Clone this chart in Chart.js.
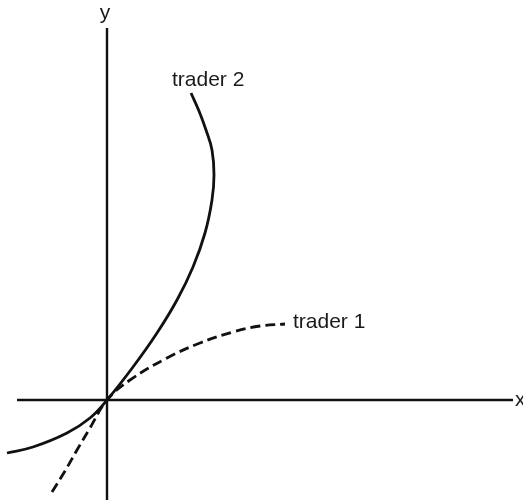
<!DOCTYPE html>
<html>
<head>
<meta charset="utf-8">
<script src="https://cdn.jsdelivr.net/npm/chart.js@4"></script>
<style>
  html, body { margin: 0; padding: 0; background: #fff; }
  #wrap { width: 523px; height: 500px; }
</style>
</head>
<body>
<div id="wrap"><canvas id="chart" width="523" height="500"></canvas></div>
<script>
// curve values (x right, y up, origin where the axes cross)
var trader1X = [-55, -42, -30, -17, 0, 23, 60, 93, 126, 153, 178];
var trader1Y = [-92, -71, -50, -28, 0, 20, 42, 57, 68, 74, 76];
var trader2X = [-100, -74, -40, -17, 0, 26, 50, 70, 86, 98, 105, 107, 105, 99, 92, 84];
var trader2Y = [-53, -47, -33, -18, 0, 33, 67, 100, 133, 167, 200, 225, 250, 270, 289, 307];
var seriesNames = ['trader 1', 'trader 2'];
var axisNames = ['x', 'y'];

function toPoints(xs, ys) {
    var pts = [];
    for (var i = 0; i < xs.length; i++) {
        pts.push({ x: xs[i], y: ys[i] });
    }
    return pts;
}

// text labels drawn at data positions
var textLabels = [
    { text: seriesNames[1], x: 65, y: 320, align: 'left' },
    { text: seriesNames[0], x: 186, y: 78, align: 'left' },
    { text: axisNames[1], x: -2, y: 387, align: 'center' },
    { text: axisNames[0], x: 408, y: 0, align: 'left' }
];

var labelPlugin = {
    id: 'textLabels',
    afterDatasetsDraw: function (chart) {
        var ctx = chart.ctx;
        var xs = chart.scales.x, ys = chart.scales.y;
        ctx.save();
        ctx.fillStyle = '#1a1a1a';
        ctx.font = '21px "Liberation Sans", Arial, sans-serif';
        ctx.textBaseline = 'middle';
        textLabels.forEach(function (l) {
            ctx.textAlign = l.align;
            ctx.fillText(l.text, xs.getPixelForValue(l.x), ys.getPixelForValue(l.y));
        });
        ctx.restore();
    }
};

var ctx = document.getElementById('chart').getContext('2d');
var chart = new Chart(ctx, {
    type: 'line',
    data: {
        datasets: [
            {
                // x axis
                data: [{ x: -90, y: 0 }, { x: 406, y: 0 }],
                borderColor: '#111',
                borderWidth: 2.4,
                pointRadius: 0,
                tension: 0
            },
            {
                // y axis
                data: [{ x: 0, y: -100 }, { x: 0, y: 372 }],
                borderColor: '#111',
                borderWidth: 2.4,
                pointRadius: 0,
                tension: 0
            },
            {
                label: seriesNames[0],
                data: toPoints(trader1X, trader1Y),
                borderColor: '#111',
                borderWidth: 2.8,
                borderDash: [10, 5],
                pointRadius: 0,
                tension: 0.4
            },
            {
                label: seriesNames[1],
                data: toPoints(trader2X, trader2Y),
                borderColor: '#111',
                borderWidth: 2.8,
                pointRadius: 0,
                tension: 0.4
            }
        ]
    },
    options: {
        responsive: false,
        animation: false,
        clip: false,
        layout: { padding: 0 },
        plugins: {
            legend: { display: false },
            tooltip: { enabled: false }
        },
        scales: {
            x: { type: 'linear', min: -107, max: 416, display: false },
            y: { type: 'linear', min: -100, max: 400, display: false }
        }
    },
    plugins: [labelPlugin]
});
</script>
</body>
</html>
